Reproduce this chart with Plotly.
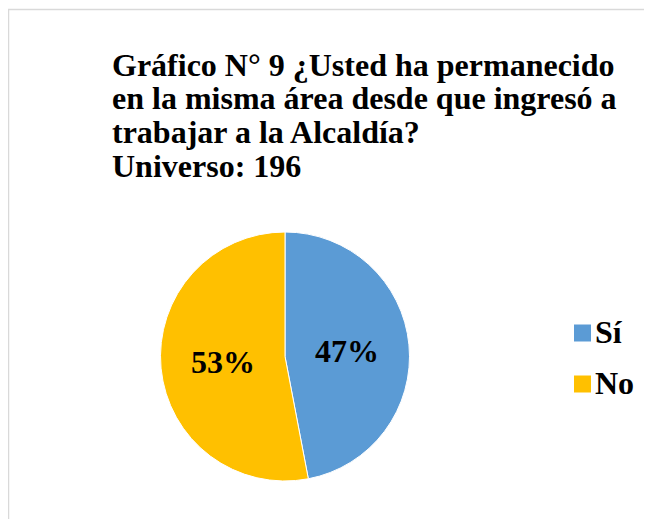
import plotly.graph_objects as go

labels = ["Sí", "No"]
values = [47, 53]
colors = ["#5b9bd5", "#ffc000"]
title_lines = [
    "Gráfico N° 9 ¿Usted ha permanecido",
    "en la misma área desde que ingresó a",
    "trabajar a la Alcaldía?",
    "Universo: 196",
]

# figure sits at page offset (8, 8) because of the default body margin
OFF = 8
W, H = 652 - 2 * OFF, 527 - 2 * OFF
font = "Liberation Serif, Times New Roman, serif"


def px(x):
    return (x - OFF) / W


def py(y):
    return 1 - (y - OFF) / H


fig = go.Figure(go.Pie(
    labels=labels,
    values=values,
    sort=False,
    direction="clockwise",
    rotation=0,
    marker=dict(colors=colors, line=dict(color="white", width=1)),
    texttemplate="%{percent:.0%}",
    textposition="inside",
    insidetextorientation="horizontal",
    textfont=dict(family=font, size=32, color="black", weight="bold"),
    domain=dict(x=[px(160), px(410)], y=[py(481), py(232)]),
    hoverinfo="label+percent",
    showlegend=False,
))

# title, one annotation per line for tight line spacing
line_y = [65, 98.5, 132, 165.5]
for txt, yy in zip(title_lines, line_y):
    fig.add_annotation(
        text=txt, xref="paper", yref="paper",
        x=px(110), y=py(yy), xanchor="left", yanchor="middle",
        align="left", showarrow=False,
        font=dict(family=font, size=32, color="black", weight="bold"),
    )

# legend
leg_y = [333, 384]
for lab, col, yy in zip(labels, colors, leg_y):
    fig.add_shape(
        type="rect", xref="paper", yref="paper",
        x0=px(574), x1=px(591), y0=py(yy + 8.5), y1=py(yy - 8.5),
        fillcolor=col, line=dict(width=0),
    )
    fig.add_annotation(
        text=lab, xref="paper", yref="paper",
        x=px(593), y=py(yy - 1), xanchor="left", yanchor="middle",
        showarrow=False,
        font=dict(family=font, size=32, color="black", weight="bold"),
    )

# chart border (only top and left edges visible)
fig.add_shape(
    type="rect", xref="paper", yref="paper",
    x0=px(8.5), y0=-0.1, x1=1.1, y1=py(9.5),
    line=dict(color="#d9d9d9", width=1.5),
)

fig.update_layout(
    width=W, height=H,
    margin=dict(l=0, r=0, t=0, b=0),
    paper_bgcolor="white",
    plot_bgcolor="white",
    showlegend=False,
)

fig.write_html("out.html")
